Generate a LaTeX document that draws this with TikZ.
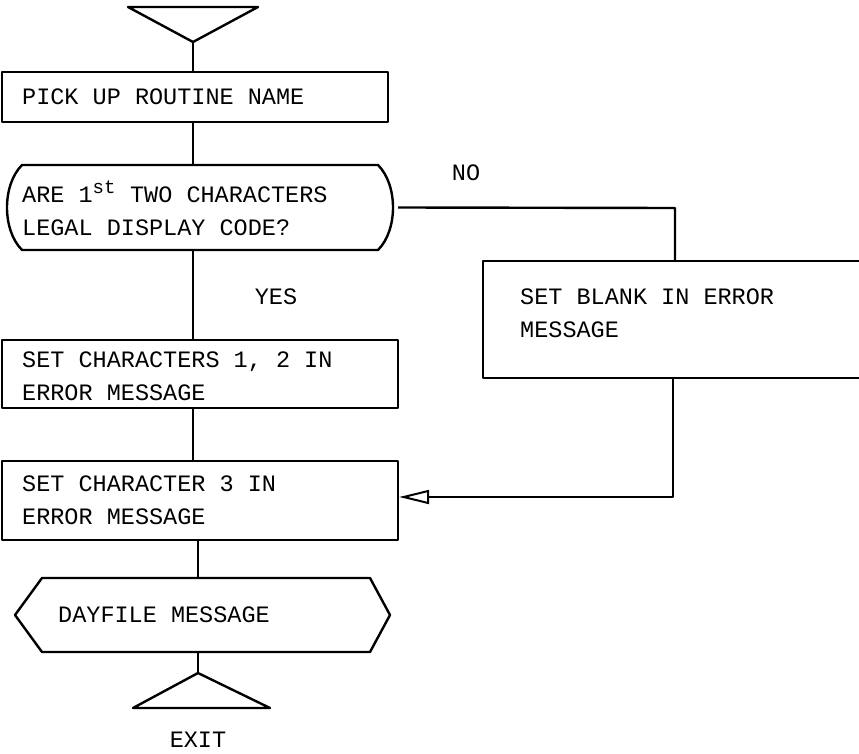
\documentclass[tikz,border=0pt]{standalone}
\usepackage{fontspec}
\setmonofont{Liberation Mono}
\usetikzlibrary{arrows.meta}
\begin{document}
\begin{tikzpicture}[x=1pt,y=-1pt,
  ln/.style={line width=2.4pt, line join=round},
  txt/.style={font=\ttfamily\fontsize{23.5}{33}\selectfont, align=left, inner sep=0pt, anchor=west},
  procbox/.style={ln, draw, rectangle, inner sep=0pt},
  lbl/.style={font=\ttfamily\fontsize{23.5}{28}\selectfont, inner sep=0pt}
]
\useasboundingbox (0,0) rectangle (859,754);
% start terminal
\draw[ln] (128,7) -- (258,7) -- (193,42) -- cycle;
\coordinate (startapex) at (193,42);
% box 1
\node[procbox, minimum width=386pt, minimum height=50pt] (b1) at (195,97) {};
\node[txt] (t1) at (22,97) {PICK UP ROUTINE NAME};
% decision
\draw[ln] (22,165) -- (378,165) .. controls (398,185) and (398,230) .. (378,250)
  -- (22,250) .. controls (2,230) and (2,185) .. (22,165) -- cycle;
\node[minimum width=396pt, minimum height=85pt, inner sep=0pt] (dec) at (200,207.5) {};
\node[txt] (t2) at (22,208) {ARE 1\textsuperscript{\fontsize{19}{19}\selectfont st} TWO CHARACTERS\\LEGAL DISPLAY CODE?};
% NO branch box
\draw[ln] (900,261) -- (483,261) -- (483,378) -- (900,378);
\node[minimum width=376pt, minimum height=117pt, inner sep=0pt] (b2) at (671,319.5) {};
\node[txt] (t3) at (520,313) {SET BLANK IN ERROR\\MESSAGE};
% box 3
\node[procbox, minimum width=396pt, minimum height=68pt] (b3) at (200,374) {};
\node[txt] (t4) at (22,376) {SET CHARACTERS 1, 2 IN\\ERROR MESSAGE};
% box 4
\node[procbox, minimum width=396pt, minimum height=79pt] (b4) at (200,500.5) {};
\node[txt] (t5) at (22,500) {SET CHARACTER 3 IN\\ERROR MESSAGE};
% hexagon
\draw[ln] (42,578) -- (370,578) -- (390,615) -- (370,652) -- (42,652) -- (15,615) -- cycle;
\node[minimum width=375pt, minimum height=74pt, inner sep=0pt] (hex) at (202.5,615) {};
\node[txt] (t6) at (58,615) {DAYFILE MESSAGE};
% exit terminal
\draw[ln] (198,673) -- (270,708) -- (133,708) -- cycle;
\coordinate (exitapex) at (198,673);
\node[lbl] (exit) at (198,740) {EXIT};
% labels
\node[lbl] (no) at (466,173) {NO};
\node[lbl] (yes) at (276,297) {YES};
% connectors
\draw[ln] (startapex) -- (b1.north -| startapex);
\draw[ln] (b1.south -| startapex) -- (dec.north -| startapex);
\draw[ln] (dec.south -| startapex) -- (b3.north -| startapex);
\draw[ln] (b3.south -| startapex) -- (b4.north -| startapex);
\draw[ln] (b4.south -| exitapex) -- (hex.north -| exitapex);
\draw[ln] (hex.south -| exitapex) -- (exitapex);
\coordinate (nocorner) at (675,208);
\draw[ln] (dec.east) -- (nocorner) -- (nocorner |- b2.north);
\coordinate (backcorner) at (673,497);
\draw[ln, -{Triangle[open, length=30pt, width=14pt, line width=2pt]}] (b2.south -| backcorner) -- (backcorner) -- (b4.east |- backcorner);
\end{tikzpicture}
\end{document}
